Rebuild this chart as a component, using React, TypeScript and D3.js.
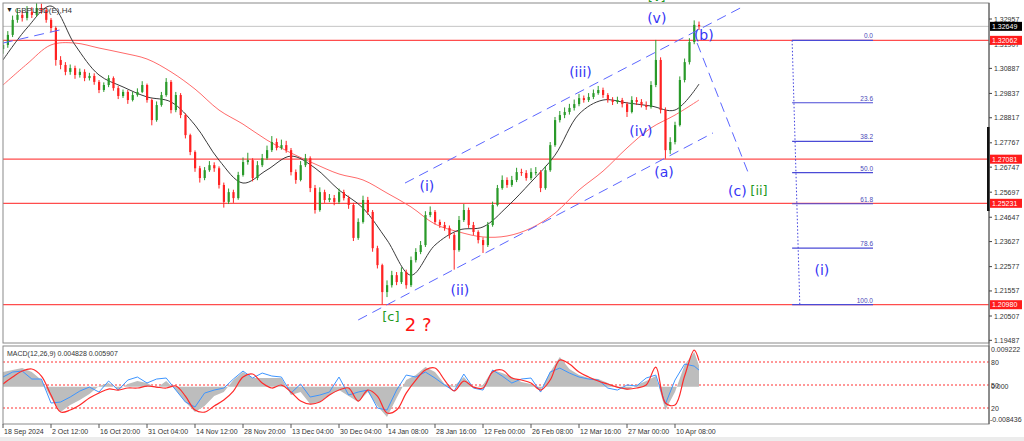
import React from 'react';
import * as d3 from 'd3';

// price series, one candle per slot (open = previous close)
const firstOpen = 1.3170;
const closes = [
  1.3187, 1.3229, 1.3292, 1.3313, 1.3300, 1.3325, 1.3313, 1.3342, 1.3333, 1.3292,
  1.3258, 1.3124, 1.3103, 1.3074, 1.3090, 1.3061, 1.3074, 1.3048, 1.3057, 1.3032,
  1.2998, 1.3019, 1.3048, 1.3006, 1.2973, 1.2990, 1.2956, 1.2977, 1.2990, 1.3019,
  1.2956, 1.2872, 1.2935, 1.2977, 1.3032, 1.2914, 1.2977, 1.2893, 1.2809, 1.2738,
  1.2670, 1.2629, 1.2662, 1.2683, 1.2670, 1.2600, 1.2529, 1.2570, 1.2545, 1.2642,
  1.2696, 1.2704, 1.2629, 1.2683, 1.2712, 1.2746, 1.2780, 1.2755, 1.2767, 1.2746,
  1.2654, 1.2621, 1.2683, 1.2712, 1.2587, 1.2495, 1.2570, 1.2537, 1.2545, 1.2529,
  1.2570, 1.2545, 1.2516, 1.2378, 1.2445, 1.2537, 1.2487, 1.2335, 1.2264, 1.2151,
  1.2180, 1.2222, 1.2193, 1.2235, 1.2180, 1.2285, 1.2319, 1.2348, 1.2474, 1.2487,
  1.2445, 1.2432, 1.2420, 1.2390, 1.2327, 1.2453, 1.2495, 1.2432, 1.2403, 1.2369,
  1.2348, 1.2432, 1.2516, 1.2587, 1.2621, 1.2600, 1.2621, 1.2654, 1.2650, 1.2629,
  1.2654, 1.2654, 1.2587, 1.2662, 1.2767, 1.2872, 1.2893, 1.2906, 1.2923, 1.2939,
  1.2964, 1.2956, 1.2969, 1.2985, 1.2998, 1.2977, 1.2956, 1.2948, 1.2956, 1.2939,
  1.2906, 1.2956, 1.2948, 1.2935, 1.2927, 1.3019, 1.3124, 1.2914, 1.2746, 1.2780,
  1.2851, 1.3040, 1.3115, 1.3199, 1.3271, 1.3265,
];
const highs = [
  1.3205, 1.3245, 1.3310, 1.3340, 1.3330, 1.3350, 1.3345, 1.3362, 1.3360, 1.3345,
  1.3300, 1.3265, 1.3140, 1.3115, 1.3105, 1.3100, 1.3088, 1.3085, 1.3070, 1.3068,
  1.3040, 1.3030, 1.3060, 1.3055, 1.3015, 1.3000, 1.2998, 1.2990, 1.3005, 1.3035,
  1.3025, 1.2962, 1.2950, 1.2990, 1.3048, 1.3040, 1.2990, 1.2985, 1.2900, 1.2815,
  1.2745, 1.2680, 1.2675, 1.2700, 1.2695, 1.2678, 1.2610, 1.2585, 1.2580, 1.2655,
  1.2715, 1.2735, 1.2712, 1.2700, 1.2730, 1.2765, 1.2805, 1.2795, 1.2790, 1.2785,
  1.2755, 1.2665, 1.2700, 1.2730, 1.2720, 1.2600, 1.2590, 1.2580, 1.2562, 1.2558,
  1.2585, 1.2580, 1.2555, 1.2525, 1.2460, 1.2555, 1.2550, 1.2495, 1.2345, 1.2270,
  1.2200, 1.2240, 1.2235, 1.2255, 1.2245, 1.2300, 1.2335, 1.2365, 1.2490, 1.2510,
  1.2495, 1.2455, 1.2445, 1.2430, 1.2400, 1.2470, 1.2520, 1.2505, 1.2445, 1.2410,
  1.2380, 1.2445, 1.2530, 1.2600, 1.2640, 1.2632, 1.2638, 1.2672, 1.2668, 1.2662,
  1.2670, 1.2675, 1.2662, 1.2680, 1.2780, 1.2885, 1.2910, 1.2925, 1.2940, 1.2958,
  1.2982, 1.2975, 1.2985, 1.3000, 1.3015, 1.3008, 1.2985, 1.2968, 1.2970, 1.2965,
  1.2948, 1.2972, 1.2968, 1.2960, 1.2950, 1.3035, 1.3208, 1.3135, 1.2925, 1.2800,
  1.2865, 1.3055, 1.3130, 1.3215, 1.3290, 1.3285,
];
const lows = [
  1.3150, 1.3175, 1.3220, 1.3280, 1.3285, 1.3290, 1.3300, 1.3305, 1.3318, 1.3280,
  1.3240, 1.3100, 1.3085, 1.3060, 1.3062, 1.3045, 1.3050, 1.3035, 1.3038, 1.3020,
  1.2985, 1.2990, 1.3010, 1.2995, 1.2960, 1.2965, 1.2940, 1.2950, 1.2970, 1.2985,
  1.2945, 1.2850, 1.2865, 1.2928, 1.2970, 1.2900, 1.2905, 1.2880, 1.2795, 1.2725,
  1.2655, 1.2610, 1.2620, 1.2655, 1.2655, 1.2585, 1.2505, 1.2520, 1.2525, 1.2538,
  1.2635, 1.2685, 1.2615, 1.2620, 1.2675, 1.2705, 1.2738, 1.2745, 1.2748, 1.2735,
  1.2640, 1.2605, 1.2615, 1.2675, 1.2570, 1.2480, 1.2488, 1.2525, 1.2528, 1.2515,
  1.2520, 1.2535, 1.2500, 1.2365, 1.2370, 1.2438, 1.2475, 1.2320, 1.2250, 1.2099,
  1.2130, 1.2170, 1.2180, 1.2185, 1.2165, 1.2172, 1.2275, 1.2310, 1.2340, 1.2465,
  1.2435, 1.2420, 1.2408, 1.2375, 1.2245, 1.2320, 1.2445, 1.2420, 1.2390, 1.2355,
  1.2315, 1.2340, 1.2425, 1.2510, 1.2580, 1.2588, 1.2592, 1.2612, 1.2638, 1.2618,
  1.2620, 1.2640, 1.2570, 1.2580, 1.2655, 1.2760, 1.2862, 1.2880, 1.2895, 1.2912,
  1.2930, 1.2945, 1.2948, 1.2960, 1.2978, 1.2965, 1.2945, 1.2935, 1.2940, 1.2925,
  1.2885, 1.2900, 1.2935, 1.2925, 1.2915, 1.2920, 1.3010, 1.2900, 1.2710, 1.2730,
  1.2770, 1.2845, 1.3030, 1.3105, 1.3190, 1.3250,
];

// moving averages, one reading every 5 candles
const maFast = [
  1.3124, 1.3258, 1.3350, 1.3187, 1.3061, 1.3011, 1.2969, 1.2948, 1.2851, 1.2704,
  1.2608, 1.2663, 1.2721, 1.2671, 1.2579, 1.2503, 1.2369, 1.2222, 1.2348, 1.2411,
  1.2424, 1.2508, 1.2612, 1.2725, 1.2897, 1.2956, 1.2944, 1.2931, 1.2914, 1.3023,
];
const maSlow = [
  1.3019, 1.3107, 1.3187, 1.3195, 1.3174, 1.3153, 1.3128, 1.3074, 1.3002, 1.2914,
  1.2855, 1.2788, 1.2734, 1.2688, 1.2646, 1.2621, 1.2566, 1.2508, 1.2436, 1.2403,
  1.2382, 1.2386, 1.2419, 1.2482, 1.2579, 1.2658, 1.2755, 1.2839, 1.2893, 1.2956,
];

// MACD panel, one reading every 2 candles plus the last one
const macdMain = [
  0.00333, 0.00378, 0.00423, 0.00333, 0.00152, -0.00256, -0.00573, -0.00414, -0.00301, -0.00165,
  0.00016, 0.00084, -0.00075, 0.00061, 0.00129, 0.00084, -0.00029, 0.00129, -0.00075, -0.00346,
  -0.00573, -0.00437, -0.00211, -0.00120, 0.00152, 0.00333, 0.00197, 0.00197, 0.00197, 0.00197,
  -0.00188, -0.00120, -0.00392, -0.00346, -0.00188, -0.00075, -0.00211, -0.00346, -0.00120, -0.00437,
  -0.00686, -0.00256, 0.00152, 0.00265, 0.00446, 0.00333, 0.00061, 0.00016, 0.00220, -0.00029,
  0.00038, 0.00378, 0.00310, 0.00220, 0.00106, 0.00061, -0.00075, 0.00333, 0.00672, 0.00401,
  0.00265, 0.00197, 0.00174, 0.00084, -0.00029, -0.00075, 0.00038, 0.00129, 0.00242, -0.00528,
  -0.00120, 0.00491, 0.00786, 0.00483,
];
const macdSignal = [
  0.00061, 0.00220, 0.00355, 0.00401, 0.00242, -0.00188, -0.00573, -0.00528, -0.00414, -0.00256,
  -0.00143, -0.00052, -0.00075, -0.00029, -0.00029, 0.00016, -0.00007, -0.00029, 0.00016, -0.00211,
  -0.00528, -0.00573, -0.00437, -0.00301, -0.00097, 0.00220, 0.00288, 0.00084, -0.00029, 0.00038,
  -0.00120, -0.00324, -0.00392, -0.00346, -0.00188, -0.00075, -0.00029, -0.00324, -0.00075, -0.00211,
  -0.00595, -0.00528, -0.00143, 0.00152, 0.00378, 0.00423, 0.00152, -0.00097, 0.00129, -0.00007,
  -0.00029, 0.00333, 0.00378, 0.00197, 0.00152, 0.00084, -0.00075, 0.00152, 0.00604, 0.00514,
  0.00333, 0.00220, 0.00129, 0.00061, -0.00007, -0.00052, -0.00029, 0.00038, 0.00446, -0.00369,
  -0.00414, 0.00242, 0.00831, 0.00591,
];
const oscLine = [
  60.4, 66.9, 68.2, 57.8, 57.8, 26.5, 27.8, 34.3, 42.1, 47.3,
  40.8, 55.2, 43.4, 56.5, 60.4, 52.6, 57.8, 59.1, 43.4, 27.8,
  21.3, 39.5, 43.4, 46.0, 57.8, 68.2, 59.1, 65.6, 61.7, 60.4,
  39.5, 51.3, 34.3, 36.9, 40.8, 60.4, 36.9, 40.8, 43.4, 20.0,
  17.3, 43.4, 63.0, 60.4, 66.9, 59.1, 50.0, 42.1, 64.3, 46.0,
  43.4, 69.5, 61.7, 52.6, 57.8, 59.1, 40.8, 66.9, 72.1, 65.6,
  60.4, 57.8, 56.5, 46.0, 43.4, 50.0, 48.7, 59.1, 63.0, 25.2,
  56.5, 77.3, 74.7, 69.5,
];
const oscLevels = [80, 50, 20];

const timeLabels = [
  '18 Sep 2024', '2 Oct 12:00', '16 Oct 20:00', '31 Oct 04:00', '14 Nov 12:00',
  '28 Nov 20:00', '13 Dec 04:00', '30 Dec 04:00', '14 Jan 08:00', '28 Jan 16:00',
  '12 Feb 00:00', '26 Feb 08:00', '12 Mar 16:00', '27 Mar 00:00', '10 Apr 08:00',
];
const priceTicks = [
  1.32957, 1.31907, 1.30887, 1.29837, 1.28817, 1.27767, 1.26747,
  1.25697, 1.24647, 1.23627, 1.22577, 1.21557, 1.20507, 1.19487,
];
const levelLines = [1.32062, 1.27081, 1.25231, 1.20980];
const bidPrice = 1.32649;

const fibHigh = 1.32062;
const fibLow = 1.20980;
const fibLevels = [0, 23.6, 38.2, 50, 61.8, 78.6, 100];

// trend lines in (candle slot, price)
const trendLines = [
  { i1: 0, p1: 1.3195, i2: 11.9, p2: 1.3250 },
  { i1: 83.75, p1: 1.2608, i2: 154, p2: 1.3346 },
  { i1: 74, p1: 1.2034, i2: 147.9, p2: 1.2818 },
  { i1: 144.6, p1: 1.3195, i2: 155.2, p2: 1.2654 },
];

const BLUE = '#3535f5';
const GREEN = '#1f9a1f';
const waveLabels = [
  { t: '(i)', i: 88.3, p: 1.2596, c: BLUE, s: 14 },
  { t: '(ii)', i: 95.2, p: 1.2159, c: BLUE, s: 14 },
  { t: '(iii)', i: 120.3, p: 1.3074, c: BLUE, s: 14 },
  { t: '(iv)', i: 132.9, p: 1.2826, c: BLUE, s: 14 },
  { t: '(v)', i: 136.2, p: 1.3300, c: BLUE, s: 14 },
  { t: '[v]', i: 136.2, p: 1.3390, c: GREEN, s: 13 },
  { t: '(a)', i: 137.7, p: 1.2654, c: BLUE, s: 14 },
  { t: '(b)', i: 146.0, p: 1.3229, c: BLUE, s: 14 },
  { t: '(c)', i: 153.0, p: 1.2575, c: BLUE, s: 14 },
  { t: '[ii]', i: 157.5, p: 1.2575, c: GREEN, s: 13 },
  { t: '(i)', i: 170.6, p: 1.2243, c: BLUE, s: 14 },
  { t: '[c]', i: 80.8, p: 1.2050, c: GREEN, s: 13 },
  { t: '2 ?', i: 86.5, p: 1.2017, c: '#ff1414', s: 18 },
];

const MAIN = { left: 3, right: 989, top: 3, bottom: 343 };
const SUB = { top: 346, bottom: 424 };
const small = "'Liberation Sans', Arial, sans-serif";

export default function App() {
  const x = d3.scaleLinear().domain([0, 10]).range([3, 51]);
  const y = d3.scaleLinear().domain([1.20507, 1.32957]).range([316, 19]);
  const yM = d3.scaleLinear().domain([-0.008436, 0.009222]).range([SUB.bottom, SUB.top]);
  const yO = d3.scaleLinear().domain([20, 80]).range([408, 362]);

  const maIdx = maFast.map((_, k) => k * 5);
  const macdIdx = d3.range(0, 145, 2).concat([145]);

  const maLine = d3.line<number>()
    .x((_, k) => x(maIdx[k]))
    .y(v => y(v))
    .curve(d3.curveCatmullRom);

  const histArea = d3.area<number>()
    .x((_, k) => x(macdIdx[k]))
    .y0(yM(0))
    .y1(v => yM(v));
  const sigLine = d3.line<number>()
    .x((_, k) => x(macdIdx[k]))
    .y(v => yM(v))
    .curve(d3.curveCatmullRom);
  const oscPath = d3.line<number>()
    .x((_, k) => x(macdIdx[k]))
    .y(v => yO(v));

  const candles = closes.map((c, i) => {
    const o = i === 0 ? firstOpen : closes[i - 1];
    return { i, o, c, h: highs[i], l: lows[i], up: c >= o };
  });

  const fibX1 = x(164.4);
  const fibX2 = x(181.25);

  return (
    <svg width={1024} height={441} style={{ position: 'absolute', left: 0, top: 0, background: '#fff' }}>
      <defs>
        <clipPath id="mainClip">
          <rect x={MAIN.left} y={MAIN.top} width={MAIN.right - MAIN.left} height={MAIN.bottom - MAIN.top} />
        </clipPath>
        <clipPath id="subClip">
          <rect x={MAIN.left} y={SUB.top} width={MAIN.right - MAIN.left} height={SUB.bottom - SUB.top} />
        </clipPath>
      </defs>
      <rect x={0} y={437} width={1024} height={4} fill="#ececec" />

      <g clipPath="url(#mainClip)">
        {/* bid line */}
        <line x1={MAIN.left} x2={MAIN.right} y1={y(bidPrice)} y2={y(bidPrice)} stroke="#c4c4c4" />
        {levelLines.map(p => (
          <line key={p} x1={MAIN.left} x2={MAIN.right} y1={y(p)} y2={y(p)} stroke="#ff4d4d" strokeWidth={1.2} />
        ))}

        {/* fibonacci */}
        <line x1={fibX1} y1={y(fibHigh)} x2={x(166)} y2={y(fibLow)} stroke="#3f3fe0" strokeDasharray="1.5,2" />
        {fibLevels.map(lv => {
          const py = y(fibHigh - (lv / 100) * (fibHigh - fibLow));
          return (
            <g key={lv}>
              <line x1={fibX1} x2={fibX2} y1={py} y2={py} stroke="#4a4ad6" strokeWidth={1.2} />
              <text x={fibX2} y={py - 2} textAnchor="end" fontSize={6.5} fontFamily={small} fill="#4a4ab8">
                {lv.toFixed(1)}
              </text>
            </g>
          );
        })}

        <path d={maLine(maSlow) || ''} fill="none" stroke="#ff6a6a" strokeWidth={1} />
        <path d={maLine(maFast) || ''} fill="none" stroke="#3a3a3a" strokeWidth={1} />

        {candles.map(d => {
          const col = d.up ? '#2a9a2a' : '#ff2222';
          const top = y(Math.max(d.o, d.c));
          const bot = y(Math.min(d.o, d.c));
          return (
            <g key={d.i}>
              <line x1={x(d.i)} x2={x(d.i)} y1={y(d.h)} y2={y(d.l)} stroke={col} strokeWidth={1} />
              <rect x={x(d.i) - 1} y={top} width={2.2} height={Math.max(1, bot - top)} fill={col} />
            </g>
          );
        })}

        {trendLines.map((t, k) => (
          <line key={k} x1={x(t.i1)} y1={y(t.p1)} x2={x(t.i2)} y2={y(t.p2)}
            stroke="#5b66ff" strokeWidth={1} strokeDasharray="10,6" />
        ))}
      </g>

      {waveLabels.map((w, k) => (
        <text key={k} x={x(w.i)} y={y(w.p)} textAnchor="middle" dominantBaseline="central"
          fontSize={w.s} fontFamily="'DejaVu Sans', Verdana, sans-serif" fill={w.c}>
          {w.t}
        </text>
      ))}

      {/* symbol caption */}
      <text x={6} y={12} fontSize={7} fontFamily={small} fill="#222">▼</text>
      <text x={15} y={12.5} fontSize={8} fontFamily={small} fill="#333">GBPUSD(E),H4</text>

      {/* MACD panel */}
      <g clipPath="url(#subClip)">
        {oscLevels.map(l => (
          <line key={l} x1={MAIN.left} x2={MAIN.right} y1={yO(l)} y2={yO(l)} stroke="#ff3030" strokeDasharray="2,2" />
        ))}
        <path d={histArea(macdMain) || ''} fill="#bdbdbd" />
        <path d={oscPath(oscLine) || ''} fill="none" stroke="#3d95ff" strokeWidth={1} />
        <path d={sigLine(macdSignal) || ''} fill="none" stroke="#ff2a2a" strokeWidth={1.2} />
      </g>
      <text x={7} y={355.5} fontSize={7} fontFamily={small} fill="#333">MACD(12,26,9) 0.004828 0.005907</text>

      {/* frames */}
      <rect x={MAIN.left} y={MAIN.top} width={MAIN.right - MAIN.left} height={MAIN.bottom - MAIN.top}
        fill="none" stroke="#8a8a8a" />
      <rect x={MAIN.left} y={SUB.top} width={MAIN.right - MAIN.left} height={SUB.bottom - SUB.top}
        fill="none" stroke="#8a8a8a" />
      <line x1={MAIN.right} x2={MAIN.right} y1={MAIN.top} y2={SUB.bottom} stroke="#555" />
      <rect x={987} y={127} width={2.5} height={84} fill="#111" />

      {/* price axis */}
      {priceTicks.map(p => (
        <g key={p}>
          <line x1={MAIN.right} x2={MAIN.right + 3} y1={y(p)} y2={y(p)} stroke="#444" />
          <text x={994} y={y(p)} dominantBaseline="central" fontSize={7} fontFamily={small} fill="#333">
            {p.toFixed(5)}
          </text>
        </g>
      ))}
      {levelLines.map(p => (
        <g key={p}>
          <rect x={MAIN.right + 1} y={y(p) - 4.5} width={32} height={9} fill="#ff1c1c" />
          <text x={MAIN.right + 3} y={y(p)} dominantBaseline="central" fontSize={7} fontFamily={small} fill="#fff">
            {p.toFixed(5)}
          </text>
        </g>
      ))}
      <rect x={MAIN.right + 1} y={y(bidPrice) - 4.5} width={32} height={9} fill="#000" />
      <text x={MAIN.right + 3} y={y(bidPrice)} dominantBaseline="central" fontSize={7} fontFamily={small} fill="#fff">
        {bidPrice.toFixed(5)}
      </text>

      {/* MACD axis */}
      {[
        { t: '0.009222', v: yM(0.009222) + 3 },
        { t: '80', v: yO(80) },
        { t: '0.000', v: yM(0) },
        { t: '50', v: yO(50) },
        { t: '20', v: yO(20) },
        { t: '-0.008436', v: yM(-0.008436) - 5 },
      ].map((d, k) => (
        <text key={k} x={d.t.startsWith('-') ? 990 : 991} y={d.v} dominantBaseline="central"
          fontSize={7} fontFamily={small} fill="#333">
          {d.t}
        </text>
      ))}

      {/* time axis */}
      {timeLabels.map((t, k) => (
        <g key={t}>
          <line x1={x(k * 10)} x2={x(k * 10)} y1={SUB.bottom} y2={SUB.bottom + 4} stroke="#555" />
          <text x={x(k * 10) + 1} y={433.5} fontSize={7} fontFamily={small} fill="#333">{t}</text>
        </g>
      ))}
    </svg>
  );
}
